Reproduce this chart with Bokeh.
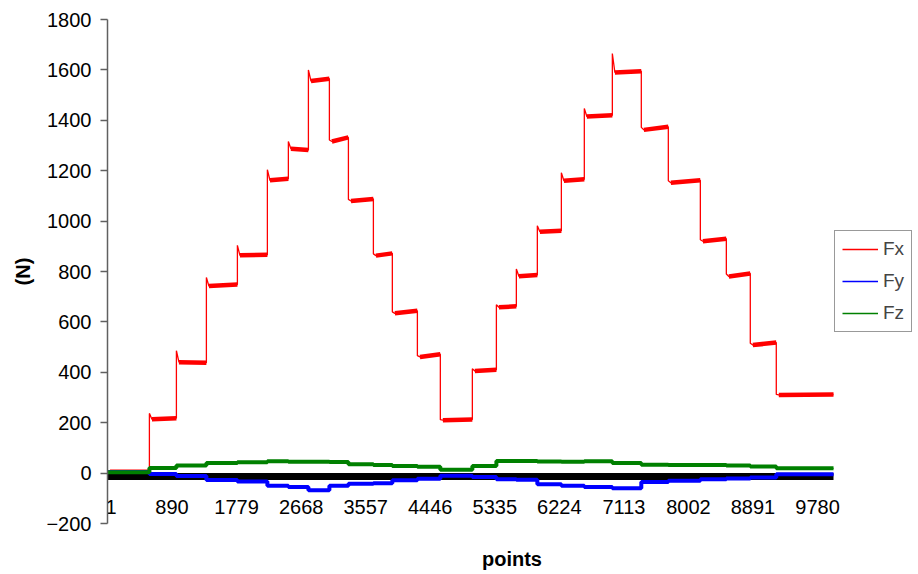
from bokeh.plotting import figure
from bokeh.models import Range1d, FixedTicker, Legend, LegendItem
from bokeh.core.properties import value
from bokeh.embed import file_html
from bokeh.resources import INLINE

# ---------------- data ----------------
n_points = 10000
seg_start = [1, 578, 950, 1363, 1790, 2203, 2492, 2768, 3057, 3319, 3663, 3924, 4269,
             4585, 5026, 5357, 5632, 5921, 6252, 6568, 6954, 7353, 7725, 8166, 8524,
             8854, 9212]
fx_level = [5, 214, 440, 742, 864, 1162, 1287, 1556, 1316, 1080, 863, 634, 461,
            210, 405, 658, 781, 958, 1160, 1415, 1590, 1362, 1152, 920, 780, 508, 310]
fx_peak = [5, 237, 486, 776, 904, 1204, 1316, 1600, 1322, 1086, 870, 640, 466,
           212, 414, 668, 810, 982, 1192, 1447, 1665, 1372, 1160, 926, 790, 515, 312]
fx_end = [5, 218, 438, 748, 866, 1168, 1282, 1565, 1332, 1088, 872, 644, 472,
          213, 410, 662, 786, 962, 1166, 1420, 1595, 1374, 1162, 930, 792, 518, 312]
fy_level = [4, -4, -12, -27, -33, -50, -55, -68, -50, -42, -40, -28, -22,
            -11, -15, -24, -26, -44, -50, -55, -60, -35, -30, -24, -21, -17, -5]
fz_level = [3, 20, 30, 40, 43, 47, 45, 45, 44, 35, 32, 28, 25,
            13, 28, 48, 48, 46, 45, 47, 40, 33, 32, 32, 30, 26, 19]
baseline_level = [-13, -13]
x_ticks = [1, 890, 1779, 2668, 3557, 4446, 5335, 6224, 7113, 8002, 8891, 9780]
x_tick_labels = ["1", "890", "1779", "2668", "3557", "4446", "5335", "6224",
                 "7113", "8002", "8891", "9780"]
y_ticks = [-200, 0, 200, 400, 600, 800, 1000, 1200, 1400, 1600, 1800]

# ---------------- figure ----------------
FONT = "Liberation Sans"
frame_left = 107
fig_w, fig_h = 916, 572
px_per_pt = 726 / (n_points - 1)
x_end = 1 + (fig_w - frame_left) / px_per_pt

p = figure(width=fig_w, height=fig_h, title=None, output_backend="svg",
           toolbar_location=None,
           x_range=Range1d(1, x_end), y_range=Range1d(y_ticks[0], y_ticks[-1]),
           min_border_left=frame_left, min_border_right=0,
           min_border_top=19, min_border_bottom=48)
p.outline_line_color = None
p.xgrid.visible = False
p.ygrid.visible = False
p.background_fill_color = "white"
p.border_fill_color = "white"

seg_end = seg_start[1:] + [n_points]
settle = 35

# baseline band
p.line(x=[seg_start[0], n_points], y=baseline_level, line_color="black", line_width=7)

# Fx thin path
fx_x, fx_y = [], []
for i, (s, e) in enumerate(zip(seg_start, seg_end)):
    if i == 0:
        fx_x += [s, e]
        fx_y += [fx_level[i], fx_end[i]]
    else:
        fx_x += [s, s + settle, e]
        fx_y += [fx_peak[i], fx_level[i], fx_end[i]]
r_fx = p.line(x=fx_x, y=fx_y, line_color="#FF0000", line_width=1.3)
p.multi_line(xs=[[s + settle, e] for s, e in zip(seg_start, seg_end)],
             ys=[[a, b] for a, b in zip(fx_level, fx_end)],
             line_color="#FF0000", line_width=4.5)

# Fy / Fz
step_x = seg_start + [n_points]
r_fy = p.step(x=step_x, y=fy_level + [fy_level[-1]], mode="after",
              line_color="#0000FF", line_width=1.3)
p.step(x=step_x, y=fy_level + [fy_level[-1]], mode="after",
       line_color="#0000FF", line_width=4)
r_fz = p.step(x=step_x, y=fz_level + [fz_level[-1]], mode="after",
              line_color="#008000", line_width=1.3)
p.step(x=step_x, y=fz_level + [fz_level[-1]], mode="after",
       line_color="#008000", line_width=4)

# category labels next to the axis crossing at 0
p.text(x=x_ticks[1:], y=[0] * (len(x_ticks) - 1), text=x_tick_labels[1:],
       text_align="center", text_baseline="middle", y_offset=34,
       text_font=value(FONT), text_font_size=value("20px"), text_color="black")
# first label sits on the value axis; left-aligned so it is not cut by the frame
p.text(x=x_ticks[:1], y=[0], text=x_tick_labels[:1],
       text_align="left", text_baseline="middle", y_offset=34, x_offset=-2,
       text_font=value(FONT), text_font_size=value("20px"), text_color="black")

# y axis
ya = p.yaxis[0]
ya.ticker = FixedTicker(ticks=y_ticks)
ya.minor_tick_line_color = None
ya.major_tick_out = 7
ya.major_tick_in = 0
ya.axis_line_color = "#606060"
ya.axis_line_width = 1.5
ya.major_tick_line_color = "#606060"
ya.major_tick_line_width = 1.5
ya.major_label_text_font = FONT
ya.major_label_text_font_size = "20px"
ya.major_label_text_color = "black"
ya.major_label_standoff = 9
ya.axis_label = "(N)"
ya.axis_label_text_font = FONT
ya.axis_label_text_font_size = "20px"
ya.axis_label_text_font_style = "bold"
ya.axis_label_text_color = "black"
ya.axis_label_standoff = 9

# x axis: only carries the title
xa = p.xaxis[0]
xa.ticker = FixedTicker(ticks=[])
xa.minor_tick_line_color = None
xa.major_tick_line_color = None
xa.major_tick_out = 0
xa.major_tick_in = 0
xa.major_label_standoff = 0
xa.axis_line_color = None
xa.axis_label = "points"
xa.axis_label_text_font = FONT
xa.axis_label_text_font_size = "20px"
xa.axis_label_text_font_style = "bold"
xa.axis_label_text_color = "black"
xa.axis_label_standoff = 24

legend = Legend(items=[LegendItem(label="Fx", renderers=[r_fx]),
                       LegendItem(label="Fy", renderers=[r_fy]),
                       LegendItem(label="Fz", renderers=[r_fz])],
                location=(834 - frame_left, 191))
legend.label_text_font = FONT
legend.label_text_font_size = "19px"
legend.glyph_width = 36
legend.glyph_height = 20
legend.label_height = 20
legend.label_standoff = 5
legend.padding = 7
legend.spacing = 10
legend.margin = 0
legend.border_line_color = "#333333"
legend.border_line_width = 1
legend.background_fill_color = "white"
legend.background_fill_alpha = 1
p.add_layout(legend)

open("out.html", "w").write(file_html(p, INLINE))
